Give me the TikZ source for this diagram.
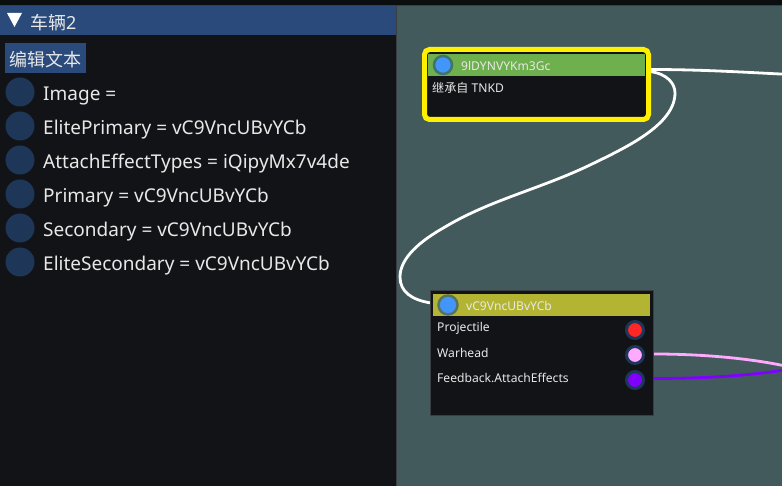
\documentclass[tikz,border=0pt]{standalone}
\usepackage{fontspec}
\setmainfont{Noto Sans}
\newfontfamily\cjk{Noto Sans CJK SC}
\definecolor{canvasbg}{HTML}{435A5C}
\definecolor{panelbg}{HTML}{111316}
\definecolor{hdr}{HTML}{294A7A}
\definecolor{dot}{HTML}{1E3658}
\definecolor{nodeedge}{HTML}{3A3D42}
\definecolor{txt}{HTML}{E8E8E8}
\definecolor{yel}{HTML}{FFF000}
\definecolor{grn}{HTML}{6DB04D}
\definecolor{oli}{HTML}{B4B433}
\definecolor{blu}{HTML}{4296FA}
\tikzset{
 x=1pt,y=-1pt,
 ptxt/.style={anchor=west,inner sep=0pt,text=txt,font=\fontsize{19}{21}\selectfont},
 ntxt/.style={anchor=west,inner sep=0pt,text=txt,font=\fontsize{12.1}{14}\selectfont},
 pdot/.style={circle,fill=dot,minimum size=29pt,inner sep=0pt},
 port/.style={circle,draw=dot,line width=3pt,minimum size=17pt,inner sep=0pt},
 wire/.style={line width=2.8pt,line cap=butt},
}
\begin{document}
\begin{tikzpicture}
\useasboundingbox (0,0) rectangle (782,486);
\clip (0,0) rectangle (782,486);
\fill[black!85!canvasbg] (0,0) rectangle (782,486);
\fill[panelbg] (0,5) rectangle (396,486);
\fill[canvasbg] (397,5) rectangle (782,486);
\draw[nodeedge] (0,5) -- (782,5);
\draw[nodeedge] (396.5,5) -- (396.5,486);
\fill[hdr] (0,6) rectangle (396,35);
\fill[white] (7,13) -- (22,13) -- (14.5,27) -- cycle;
\node[ptxt,font=\fontsize{18}{20}\selectfont] (title) at (30,23) {{\cjk 车辆}2};
\fill[hdr] (5,43) rectangle (86,73);
\node[ptxt,font=\fontsize{18}{20}\selectfont] (edit) at (9,60) {\cjk 编辑文本};
\node[pdot] (d1) at (20,92) {};
\node[ptxt] at (43,96) {Image =};
\node[pdot] (d2) at (20,126) {};
\node[ptxt] at (43,130) {ElitePrimary = vC9VncUBvYCb};
\node[pdot] (d3) at (20,160) {};
\node[ptxt] at (43,164) {AttachEffectTypes = iQipyMx7v4de};
\node[pdot] (d4) at (20,194) {};
\node[ptxt] at (43,198) {Primary = vC9VncUBvYCb};
\node[pdot] (d5) at (20,228) {};
\node[ptxt] at (43,232) {Secondary = vC9VncUBvYCb};
\node[pdot] (d6) at (20,262) {};
\node[ptxt] at (43,266) {EliteSecondary = vC9VncUBvYCb};
% node A
\coordinate (aout1) at (650,69.5);
\coordinate (aout2) at (650,71.5);
\coordinate (ain) at (431,303);
\coordinate (e1) at (790,74.5);
\coordinate (e2) at (790,369);
\draw[wire,white] (aout1) .. controls (700,69.5) and (740,72) .. (e1);
\draw[wire,white] (aout2) .. controls (668,74) and (675,84) .. (675,93)
  .. controls (675,125) and (625,148) .. (590,165)
  .. controls (540,189) and (490,200) .. (445,227)
  .. controls (420,241) and (400,258) .. (400,277)
  .. controls (400,292) and (412,300) .. (ain);
\draw[line width=5pt,yel,fill=panelbg,rounded corners=5pt] (424.5,49.5) rectangle (648.5,119.5);
\fill[grn] (428,54) rectangle (645,76);
\node[circle,fill=blu,draw=blu!45!grn!70!black,line width=2.5pt,minimum size=18pt,inner sep=0pt] (ai) at (443,65) {};
\node[ntxt] (at) at (461,66) {9lDYNVYKm3Gc};
\node[ntxt] (as) at (432,88) {{\cjk 继承自} TNKD};
% node B
\draw[nodeedge,fill=panelbg] (430,290) rectangle (653,415);
\fill[oli] (433,294) rectangle (650,316);
\node[circle,fill=blu,draw=oli!55!black!70!blu,line width=2.5pt,minimum size=19pt,inner sep=0pt] (bi) at (448,305) {};
\node[ntxt] (bt) at (466,306) {vC9VncUBvYCb};
\node[ntxt] at (437,328.5) {Projectile};
\node[ntxt] at (437,353) {Warhead};
\node[ntxt] at (437,378) {Feedback.AttachEffects};
\node[port,fill=red!85!white] (p1) at (635,330) {};
\node[port,fill={rgb,255:red,255;green,170;blue,255}] (p2) at (635,355) {};
\node[port,fill={rgb,255:red,128;green,0;blue,255}] (p3) at (635,380) {};
\coordinate (w1) at (654,354);
\coordinate (w2) at (654,378.5);
\coordinate (e3) at (790,367);
\draw[wire,draw={rgb,255:red,255;green,170;blue,255}] (w1) .. controls (700,354) and (750,358) .. (e3);
\draw[wire,draw={rgb,255:red,128;green,0;blue,255}] (w2) .. controls (700,378.5) and (750,376) .. (e2);
\end{tikzpicture}
\end{document}
